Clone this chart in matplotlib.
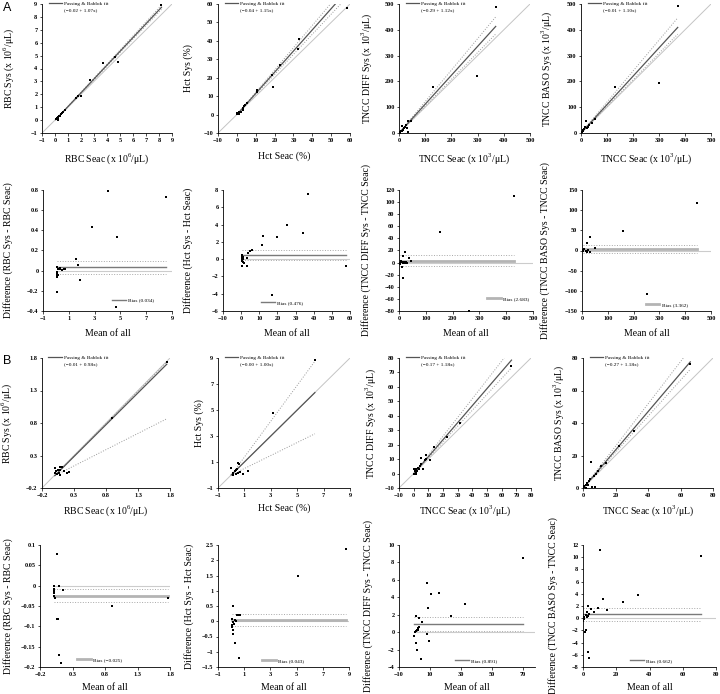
import numpy as np
import matplotlib.pyplot as plt
from matplotlib.ticker import FuncFormatter
from matplotlib.lines import Line2D

plt.rcParams['font.family'] = ['Liberation Serif', 'DejaVu Serif']
plt.rcParams['mathtext.fontset'] = 'custom'
plt.rcParams['mathtext.rm'] = 'Liberation Serif'

# ---- A: scatter data (Seac vs Sys) ----
rbc_a_seac = [8.19, 3.68, 2.70, 4.60, 4.84, 1.65, 1.78, 2.00, 0.26, 0.08, 0.13, 0.12, 0.15,
              0.17, 0.20, 0.29, 0.38, 0.44, 0.54, 0.65, 0.74, 0.05, 0.23]
rbc_a_sys = [8.91, 4.46, 3.11, 4.91, 4.47, 1.75, 1.83, 1.90, 0.04, 0.11, 0.11, 0.08, 0.09,
             0.14, 0.21, 0.31, 0.33, 0.46, 0.57, 0.66, 0.76, 0.05, 0.18]
hct_a_seac = [58.4, 33.2, 32.5, 23.0, 18.7, 19.0, 10.6, 10.7, 5.4, 4.5, 3.6, 3.4, 3.1, 0.9, 0.3,
              0.4, 0.6, 0.7, 0.8, 0.5, 0.9, 1.0, 0.3, 1.2, 2.0]
hct_a_sys = [57.6, 40.8, 35.5, 27.0, 21.3, 15.0, 13.4, 12.3, 6.5, 5.4, 4.4, 2.6, 3.3, 0.1, 0.8,
             0.6, 0.5, 0.7, 0.9, 0.3, 1.2, 0.7, 0.3, 1.2, 1.6]
diff_a_seac = [369, 299, 128, 10, 17, 27, 36, 29, 33, 4, 6, 10, 14, 19, 23, 1, 2, 44]
diff_a_sys = [487, 222, 179, 26, 13, 30, 46, 20, 4, 3, 6.5, 9, 13, 20, 22, 0, 1, 47]
baso_a_seac = [372, 300, 132, 18, 15, 6, 13, 22, 32, 41, 54, 3, 9, 28]
baso_a_sys = [492, 194, 180, 47, 23, 8, 14, 21, 31, 40, 53, 4, 10, 25]

# ---- A: Bland-Altman data (mean of all, difference) ----
rbc_a_mean = [8.56, 4.01, 2.80, 4.74, 4.66, 1.58, 1.69, 1.89, 0.10, 0.05, 0.08, 0.05, 0.07,
              0.12, 0.20, 0.34, 0.47, 0.60, 0.73, 0.20, 0.29, 0.06]
rbc_a_diff = [0.73, 0.79, 0.43, 0.33, -0.36, 0.12, 0.06, -0.09, -0.21, 0.04, -0.01, -0.03,
              -0.04, -0.03, 0.02, 0.02, 0.01, 0.02, 0.02, -0.04, 0.03, -0.06]
hct_a_mean = [58.0, 37.0, 34.0, 25.0, 20.0, 17.0, 12.0, 11.5, 6.0, 5.0, 4.0, 3.0, 3.2, 0.5, 0.5,
              0.5, 0.6, 0.7, 0.8, 0.4, 1.0, 0.9, 0.3, 1.2, 1.8]
hct_a_diff = [-0.8, 7.5, 3.0, 3.9, 2.6, -4.1, 2.7, 1.6, 1.1, 0.9, 0.7, -0.8, 0.1, -0.8, 0.5,
              0.2, -0.1, 0.0, 0.1, -0.2, 0.3, -0.3, 0.0, 0.0, -0.4]
diff_a_mean = [428, 154, 260, 21, 15, 11, 16, 36, 46, 27, 31, 2.5, 6, 10, 14, 5, 17, 22, 9]
diff_a_diff = [110.5, 50.5, -80, 18.3, 11.7, -7.8, -25.6, 7.2, 3.3, 1.7, -0.5, -0.5, 0.5, 1.7,
               -1, -2, 0.5, -0.5, 3.3]
baso_a_mean = [446, 157, 253, 31, 18, 50, 14, 5, 9, 18, 24, 31, 3]
baso_a_diff = [117, 48, -109, 33, 19, 7, 0, 0, 3.5, -3, 2, -4.5, 1]

# ---- B: scatter data ----
rbc_b_seac = [1.75, 0.89, 0.00, 0.00, 0.03, 0.06, 0.075, 0.085, 0.14, 0.19, 0.215, 0.025,
              0.045, 0.11, 0.075]
rbc_b_sys = [1.74, 0.87, 0.107, 0.03, 0.015, 0.03, 0.08, 0.005, 0.056, 0.03, 0.04, 0.06, 0.07,
             0.12, 0.13]
hct_b_seac = [6.34, 3.13, 1.28, 0.59, 0.52, 0.00, 0.14, 0.27, 0.39, 0.52, 0.65, 0.14, 0.44,
              0.90, 0.34]
hct_b_sys = [8.87, 4.77, 0.28, 0.85, 0.92, 0.54, 0.15, 0.28, 0.08, 0.15, 0.23, 0.03, 0.49,
             0.08, 0.38]
diff_b_seac = [66.7, 31.4, 22.8, 13.7, 8.7, 5.2, 7.5, 11.4, 6.4, 5.2, 4.1, 3.0, 1.8, 0.7, 0.0,
               1.4, 2.3, 3.6, 0.5, 1.8, 8.7]
diff_b_sys = [74.2, 34.8, 25.1, 18.6, 12.8, 10.9, 9.3, 9.7, 3.0, 6.3, 5.3, 3.9, 3.0, 1.6, 0.0,
              1.2, 2.1, 3.2, 3.0, 0.0, 10.2]
baso_b_seac = [66, 31.2, 21.9, 14.4, 11.1, 9.0, 8.2, 6.6, 5.1, 4.5, 3.5, 2.5, 1.6, 0.8, 0.4,
               7.6, 5.5, 2.9, 2.1]
baso_b_sys = [76.5, 35.3, 25.8, 15.3, 13.6, 10.3, 8.9, 7.4, 16.1, 5.8, 4.1, 3.3, 2.1, 1.2, 0.4,
              0.8, 0.6, 1.6, 0.0]

# ---- B: Bland-Altman data ----
rbc_b_mean = [0.056, 0.02, 0.02, 0.02, 0.02, 0.02, 0.03, 0.097, 0.15, 0.056, 0.07, 0.097,
              0.13, 0.90, 1.77]
rbc_b_diff = [0.079, 0.0, -0.007, -0.013, -0.019, -0.026, -0.03, 0.0, -0.011, -0.081, -0.081,
              -0.17, -0.19, -0.05, -0.03]
hct_b_mean = [8.8, 5.1, 0.15, 0.27, 0.6, 0.15, 0.1, 0.45, 0.6, 0.7, 0.05, 0.15, 0.2, 0.3, 0.1,
              0.4, 0.15]
hct_b_diff = [2.37, 1.49, 0.49, -0.71, -1.19, -0.41, -0.19, 0.2, 0.2, 0.2, 0.09, -0.02, -0.08,
              0.03, -0.13, 0.0, -0.3]
diff_b_mean = [70, 32.8, 23.5, 15.9, 10.4, 8.3, 8.5, 7.8, 9.6, 4.1, 1.7, 0.9, 1.3, 2.8, 4.6,
               2.0, 2.5, 3.0, 1.5, 2.2, -0.2, 0.5, 1.0]
diff_b_diff = [8.5, 3.2, 1.9, 4.5, 4.4, 5.6, 2.8, -0.2, -1.0, -3.1, -2.0, -1.3, 1.8, 1.6, 1.2,
               0.3, 0.5, 0.6, 0.2, 0.4, -0.4, 0.0, 0.1]
baso_b_mean = [70.8, 10.4, 33, 24, 11.8, 14.4, 8.8, 6.4, 5, 3, 2.4, 1.6, 0.8, 0.4, 0.2, 1.4, 2,
               2.8, 3.8, 3.6, 2.4, 3.2]
baso_b_diff = [10.2, 11.1, 3.8, 2.6, 3.1, 1.3, 1.6, 1.0, 1.5, 2.0, 1.0, 0.5, 0.2, -0.1, -0.4,
               -2.2, -2.0, -5.6, -6.5, 0.7, 0.2, 0.4]

# Passing & Bablok fits (intercept, slope) and CI slopes
fit_a = [(-0.02, 1.07), (-0.04, 1.15), (-0.29, 1.12), (-0.01, 1.10)]
fit_b = [(-0.01, 0.98), (-0.0, 1.00), (-0.17, 1.18), (-0.27, 1.18)]
ci_a = [(1.05, 1.09), (1.09, 1.21), (1.04, 1.22), (1.03, 1.20)]
ci_b = [(0.50, 1.00), (0.50, 1.38), (1.10, 1.30), (1.11, 1.30)]

# Bland-Altman bias and dotted limits
bias_a = [0.034, 0.476, 2.683, 3.362]
bias_b = [-0.025, 0.043, 0.891, 0.662]
limits_a = [(-0.035, 0.10), (-0.15, 1.1), (-5, 12), (-6, 13)]
limits_b = [(-0.04, -0.009), (-0.14, 0.25), (0.1, 1.7), (-0.44, 1.75)]

unit6 = '(x 10$^{6}$/\u03bcL)'
unit3 = '(x 10$^{3}$/\u03bcL)'
xlabels_sc = ['RBC Seac ' + unit6, 'Hct Seac (%)', 'TNCC Seac ' + unit3, 'TNCC Seac ' + unit3]
ylabels_sc = ['RBC Sys ' + unit6, 'Hct Sys (%)', 'TNCC DIFF Sys ' + unit3,
              'TNCC BASO Sys ' + unit3]
ylabels_ba = ['Difference (RBC Sys - RBC Seac)', 'Difference (Hct Sys - Hct Seac)',
              'Difference (TNCC DIFF Sys - TNCC Seac)', 'Difference (TNCC BASO Sys - TNCC Seac)']

W, H = 720, 694
fig = plt.figure(figsize=(W / 100, H / 100), dpi=100)

# bias line looks: thin dark or thick light
bias_look = {'dark': ('#7a7a7a', 1.0), 'light': ('#b4b4b4', 2.0)}


def fmt(v, pos):
    if abs(v) < 1e-9:
        return '0'
    return f"{round(v, 4):g}".replace('-', '\u2212')


def make_ax(box, xr, yr, xlabel, ylabel, ylab_px, xlab_px):
    l, t, r, b = box
    ax = fig.add_axes([l / W, 1 - b / H, (r - l) / W, (b - t) / H])
    ax.set_xlim(xr[0], xr[1])
    ax.set_ylim(yr[0], yr[1])
    ax.set_xticks(np.arange(xr[0], xr[1] + 1e-9, xr[2]))
    ax.set_yticks(np.arange(yr[0], yr[1] + 1e-9, yr[2]))
    ax.xaxis.set_major_formatter(FuncFormatter(fmt))
    ax.yaxis.set_major_formatter(FuncFormatter(fmt))
    for s in ['top', 'right']:
        ax.spines[s].set_visible(False)
    for s in ['left', 'bottom']:
        ax.spines[s].set_linewidth(0.6)
    ax.tick_params(length=1.8, width=0.5, labelsize=4.5, pad=1.5)
    for lab in ax.get_xticklabels() + ax.get_yticklabels():
        lab.set_fontweight('bold')
    ax.set_xlabel(xlabel, fontsize=7)
    ax.set_ylabel(ylabel, fontsize=7)
    ax.xaxis.set_label_coords(0.5, (b - xlab_px) / (b - t))
    ax.yaxis.set_label_coords((ylab_px - l) / (r - l), 0.5)
    return ax


def scatter_panel(box, seac, sys, fit, ci, xr, yr, xlabel, ylabel, ylab_px, xlab_px):
    ax = make_ax(box, xr, yr, xlabel, ylabel, ylab_px, xlab_px)
    ax.plot([xr[0], xr[1]], [xr[0], xr[1]], color='#c4c4c4', lw=0.7)
    xs = np.array([min(seac), max(seac)])
    a, b = fit
    for s in ci:
        ax.plot(xs, a + s * xs, ':', color='#9a9a9a', lw=0.7)
    line, = ax.plot(xs, a + b * xs, color='#555555', lw=0.9)
    ax.plot(seac, sys, 's', color='k', ms=1.6, mew=0, zorder=5)
    txt = f"({a:.2f} + {b:.2f}x)".replace('-', '\u2212')
    ax.legend([line, Line2D([], [], color='none')], ['Passing & Bablok fit', txt],
              loc='upper left', bbox_to_anchor=(0.03, 1.04), frameon=False, fontsize=3.8,
              handlelength=2.6, handletextpad=0.4, labelspacing=0.25, borderpad=0)
    return ax


def ba_panel(box, mean, diff, bias, lims, xr, yr, ylabel, ylab_px, xlab_px, leg_pos, look):
    ax = make_ax(box, xr, yr, 'Mean of all', ylabel, ylab_px, xlab_px)
    x0, x1 = min(mean), max(mean)
    ax.plot([x0, xr[1]], [0, 0], color='#cccccc', lw=0.8)
    for v in lims:
        ax.plot([x0, x1], [v, v], ':', color='#a8a8a8', lw=0.7)
    col, lw = bias_look[look]
    line, = ax.plot([x0, x1], [bias, bias], color=col, lw=lw)
    ax.plot(mean, diff, 's', color='k', ms=1.6, mew=0, zorder=5)
    ax.legend([line], [f"Bias ({bias:.3f})".replace('-', '\u2212')], loc='center right',
              bbox_to_anchor=leg_pos, frameon=False, fontsize=3.8, handlelength=2.6,
              handletextpad=0.4, borderpad=0)
    return ax


# row 1: A scatter
boxes_a1 = [(42, 4, 172, 133), (218, 4, 350, 133), (399, 4, 530, 133), (581, 4, 711, 133)]
ranges_a1 = [((-1, 9, 1), (-1, 9, 1)), ((-10, 60, 10), (-10, 60, 10)),
             ((0, 500, 100), (0, 500, 100)), ((0, 500, 100), (0, 500, 100))]
ylab_a1 = [16, 193, 374, 554]
sc_a = [(rbc_a_seac, rbc_a_sys), (hct_a_seac, hct_a_sys), (diff_a_seac, diff_a_sys),
        (baso_a_seac, baso_a_sys)]
for i in range(4):
    scatter_panel(boxes_a1[i], sc_a[i][0], sc_a[i][1], fit_a[i], ci_a[i], ranges_a1[i][0],
                  ranges_a1[i][1], xlabels_sc[i], ylabels_sc[i], ylab_a1[i], 151)

# row 2: A Bland-Altman
boxes_a2 = [(43, 190, 172, 311), (223, 190, 350, 311), (399, 190, 533, 311), (582, 190, 711, 311)]
ranges_a2 = [((-1, 9, 2), (-0.4, 0.8, 0.2)), ((-10, 60, 10), (-6, 8, 2)),
             ((0, 500, 100), (-80, 120, 20)), ((0, 500, 100), (-150, 150, 50))]
ylab_a2 = [13, 193, 371, 550]
leg_a2 = [(0.88, 0.09), (0.65, 0.07), (0.99, 0.10), (0.84, 0.05)]
look_a2 = ['dark', 'dark', 'light', 'light']
ba_a = [(rbc_a_mean, rbc_a_diff), (hct_a_mean, hct_a_diff), (diff_a_mean, diff_a_diff),
        (baso_a_mean, baso_a_diff)]
for i in range(4):
    ba_panel(boxes_a2[i], ba_a[i][0], ba_a[i][1], bias_a[i], limits_a[i], ranges_a2[i][0],
             ranges_a2[i][1], ylabels_ba[i], ylab_a2[i], 329, leg_a2[i], look_a2[i])

# row 3: B scatter
boxes_b1 = [(42, 358, 170, 488), (218, 358, 350, 488), (399, 358, 531, 488), (583, 358, 713, 488)]
ranges_b1 = [((-0.2, 1.8, 0.5), (-0.2, 1.8, 0.5)), ((-1, 9, 2), (-1, 9, 2)),
             ((-10, 80, 10), (-10, 80, 10)), ((0, 80, 20), (0, 80, 20))]
ylab_b1 = [14, 204, 378, 566]
sc_b = [(rbc_b_seac, rbc_b_sys), (hct_b_seac, hct_b_sys), (diff_b_seac, diff_b_sys),
        (baso_b_seac, baso_b_sys)]
for i in range(4):
    scatter_panel(boxes_b1[i], sc_b[i][0], sc_b[i][1], fit_b[i], ci_b[i], ranges_b1[i][0],
                  ranges_b1[i][1], xlabels_sc[i], ylabels_sc[i], ylab_b1[i], 503)

# row 4: B Bland-Altman
boxes_b2 = [(40, 545, 170, 667), (218, 545, 349, 667), (399, 545, 535, 667), (583, 545, 716, 667)]
ranges_b2 = [((-0.2, 1.8, 0.5), (-0.2, 0.1, 0.05)), ((-1, 9, 2), (-1.5, 2.5, 0.5)),
             ((-10, 78, 20), (-4, 10, 2)), ((0, 80, 20), (-8, 12, 2))]
ylab_b2 = [13, 194, 373, 558]
leg_b2 = [(0.65, 0.06), (0.68, 0.05), (0.74, 0.05), (0.69, 0.05)]
look_b2 = ['light', 'light', 'dark', 'dark']
ba_b = [(rbc_b_mean, rbc_b_diff), (hct_b_mean, hct_b_diff), (diff_b_mean, diff_b_diff),
        (baso_b_mean, baso_b_diff)]
for i in range(4):
    ba_panel(boxes_b2[i], ba_b[i][0], ba_b[i][1], bias_b[i], limits_b[i], ranges_b2[i][0],
             ranges_b2[i][1], ylabels_ba[i], ylab_b2[i], 683, leg_b2[i], look_b2[i])

fig.text(7 / W, 1 - 8 / H, 'A', family='Liberation Sans', fontsize=9, ha='center', va='center')
fig.text(7 / W, 1 - 361 / H, 'B', family='Liberation Sans', fontsize=9, ha='center', va='center')

fig.savefig('out.png', dpi=100)
